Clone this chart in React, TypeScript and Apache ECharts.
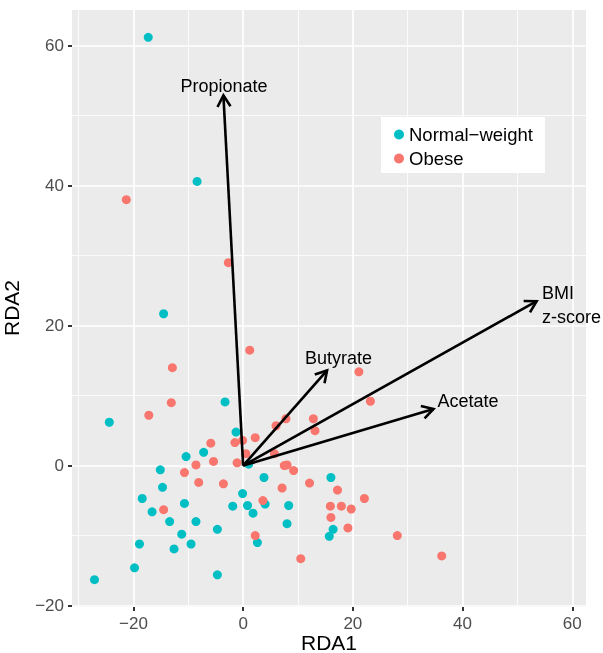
import React, { useEffect, useRef } from "react";
import * as echarts from "echarts";

const NORMAL = "Normal\u2212weight";
const OBESE = "Obese";

const normalWeight: [number, number][] = [
  [-27.1, -16.3], [-24.4, 6.2], [-19.8, -14.6], [-18.9, -11.2], [-18.4, -4.7],
  [-16.6, -6.6], [-15.1, -0.6], [-14.7, -3.1], [-13.4, -8.0], [-12.6, -11.9],
  [-11.2, -9.8], [-10.7, -5.4], [-10.4, 1.3], [-9.5, -11.2], [-8.6, -8.0],
  [-7.2, 1.9], [-4.7, -9.1], [-4.7, -15.6], [-3.3, 9.1], [-1.9, -5.8],
  [-1.3, 4.8], [-0.1, -4.0], [0.8, -5.7], [1.0, 0.2], [1.8, -6.8],
  [2.6, -11.0], [3.8, -1.7], [4.0, -5.5], [8.3, -5.7], [8.0, -8.3],
  [16.0, -1.7], [16.4, -9.1], [15.7, -10.1], [-17.3, 61.2], [-8.4, 40.6],
  [-14.5, 21.7],
];

const obese: [number, number][] = [
  [1.2, 16.5], [-12.9, 14.0], [-13.1, 9.0], [-17.2, 7.2], [-5.9, 3.2],
  [-1.5, 3.3], [-0.1, 3.6], [2.2, 4.0], [6.0, 5.7], [7.8, 6.7],
  [0.5, 1.7], [-1.1, 0.4], [-5.4, 0.6], [-8.6, 0.1], [-10.7, -1.0],
  [-8.1, -2.4], [-3.6, -2.6], [-14.5, -6.3], [3.6, -5.0], [2.2, -10.0],
  [5.7, 1.7], [7.5, 0.0], [8.0, 0.1], [9.2, -0.7], [7.1, -3.2],
  [10.5, -13.3], [21.1, 13.4], [23.2, 9.2], [12.8, 6.7], [13.1, 5.0],
  [12.1, -2.5], [17.2, -3.5], [22.1, -4.7], [15.9, -5.8], [17.9, -5.8],
  [19.7, -6.2], [16.0, -7.4], [19.1, -8.9], [28.1, -10.0], [36.2, -12.9],
  [-21.3, 38.0], [-2.7, 29.0],
];

const vectorNames = ["Propionate", "Butyrate", "Acetate", "BMI\nz-score"];
const vectorTips: [number, number][] = [[-3.6, 52.9], [15.3, 13.6], [34.7, 8.1], [53.5, 23.5]];
const vectorLabelPos: [number, number][] = [[-3.5, 54.3], [17.4, 15.4], [41.0, 9.2], [54.5, 22.9]];
const vectorLabelAlign = ["center", "center", "center", "left"];

const xMajorTicks = [-20, 0, 20, 40, 60];
const xMinorTicks = [-30, -10, 10, 30, 50];
const yMajorTicks = [-20, 0, 20, 40, 60];
const yMinorTicks = [-10, 10, 30, 50];

const xTitle = "RDA1";
const yTitle = "RDA2";

const FONT = '"Liberation Sans", Arial, Helvetica, sans-serif';

const fmt = (v: number) => String(v).replace("-", "\u2212");

export default function App() {
  const ref = useRef<HTMLDivElement>(null);
  useEffect(() => {
    if (!ref.current) return;
    const chart = echarts.init(ref.current, null, { renderer: "svg" });
    const major = { color: "#FFFFFF", width: 1.7, type: "solid" };
    const minor = { color: "#FFFFFF", width: 0.8, type: "solid" };
    const gridLines = [
      ...xMinorTicks.map((v) => ({ xAxis: v, lineStyle: minor })),
      ...yMinorTicks.map((v) => ({ yAxis: v, lineStyle: minor })),
      ...xMajorTicks.map((v) => ({ xAxis: v, lineStyle: major })),
      ...yMajorTicks.map((v) => ({ yAxis: v, lineStyle: major })),
    ];
    const tickStyle = { color: "#333333", width: 2 };
    const option: any = {
      animation: false,
      textStyle: { fontFamily: FONT },
      grid: {
        left: 72, right: 17, top: 10, bottom: 46,
        show: true, backgroundColor: "#EBEBEB", borderWidth: 0,
        containLabel: false, outerBoundsMode: "none",
      },
      graphic: [
        {
          type: "text", x: 329, y: 642,
          style: { text: xTitle, fontSize: 21, fill: "#000", fontFamily: FONT, align: "center", verticalAlign: "middle" },
        },
        {
          type: "text", x: 11, y: 308, rotation: Math.PI / 2,
          style: { text: yTitle, fontSize: 21, fill: "#000", fontFamily: FONT, align: "center", verticalAlign: "middle" },
        },
      ],
      legend: {
        data: [NORMAL, OBESE],
        orient: "vertical",
        left: 381, top: 117,
        backgroundColor: "#FFFFFF",
        padding: [8, 12, 5, 13],
        itemWidth: 10, itemHeight: 10, itemGap: 5, itemTextGap: 10,
        icon: "circle",
        textStyle: { fontSize: 18.5, color: "#000000", fontFamily: FONT },
      },
      xAxis: {
        type: "value", min: -31.2, max: 62.5,
        axisLine: { show: true, onZero: false, lineStyle: { color: "rgba(0,0,0,0)", width: 0 } },
        splitLine: { show: false },
        axisTick: { show: true, customValues: xMajorTicks, length: 4, lineStyle: tickStyle },
        axisLabel: { customValues: xMajorTicks, formatter: fmt, color: "#4D4D4D", fontSize: 17, margin: 8, fontFamily: FONT },
      },
      yAxis: {
        type: "value", min: -20.2, max: 65.1,
        axisLine: { show: true, onZero: false, lineStyle: { color: "rgba(0,0,0,0)", width: 0 } },
        splitLine: { show: false },
        axisTick: { show: true, customValues: yMajorTicks, length: 4, lineStyle: tickStyle },
        axisLabel: { customValues: yMajorTicks, formatter: fmt, color: "#4D4D4D", fontSize: 17, margin: 8, fontFamily: FONT },
      },
      series: [
        {
          name: NORMAL, type: "scatter", data: normalWeight, symbolSize: 9, z: 2,
          itemStyle: { color: "#00BFC4", opacity: 1 },
          markLine: {
            silent: true, symbol: ["none", "none"], z: 1, animation: false,
            label: { show: false }, emphasis: { disabled: true },
            data: gridLines,
          },
        },
        {
          name: OBESE, type: "scatter", data: obese, symbolSize: 9, z: 2,
          itemStyle: { color: "#F8766D", opacity: 1 },
        },
        {
          type: "custom", data: vectorTips, encode: { x: 0, y: 1 }, z: 4, silent: true,
          renderItem: (params: any, api: any) => {
            const o = api.coord([0, 0]);
            const t = api.coord([api.value(0), api.value(1)]);
            const ang = Math.atan2(t[1] - o[1], t[0] - o[0]);
            const L = 13, a = Math.PI / 6;
            const p1 = [t[0] - L * Math.cos(ang - a), t[1] - L * Math.sin(ang - a)];
            const p2 = [t[0] - L * Math.cos(ang + a), t[1] - L * Math.sin(ang + a)];
            return {
              type: "group",
              children: [
                { type: "line", shape: { x1: o[0], y1: o[1], x2: t[0], y2: t[1] }, style: { stroke: "#000", lineWidth: 2.6 } },
                { type: "polyline", shape: { points: [p1, t, p2] }, style: { stroke: "#000", lineWidth: 2.6, fill: null, lineJoin: "miter" } },
              ],
            };
          },
        },
        {
          type: "custom", data: vectorLabelPos, encode: { x: 0, y: 1 }, z: 5, silent: true,
          renderItem: (params: any, api: any) => {
            const p = api.coord([api.value(0), api.value(1)]);
            const i = params.dataIndex;
            return {
              type: "text", x: p[0], y: p[1],
              style: {
                text: vectorNames[i], fill: "#000", fontSize: 18, fontFamily: FONT,
                align: vectorLabelAlign[i], verticalAlign: "middle", lineHeight: 24,
              },
            };
          },
        },
      ],
    };
    chart.setOption(option);
    return () => chart.dispose();
  }, []);
  return <div ref={ref} style={{ position: "fixed", left: 0, top: 0, width: 603, height: 653 }} />;
}
